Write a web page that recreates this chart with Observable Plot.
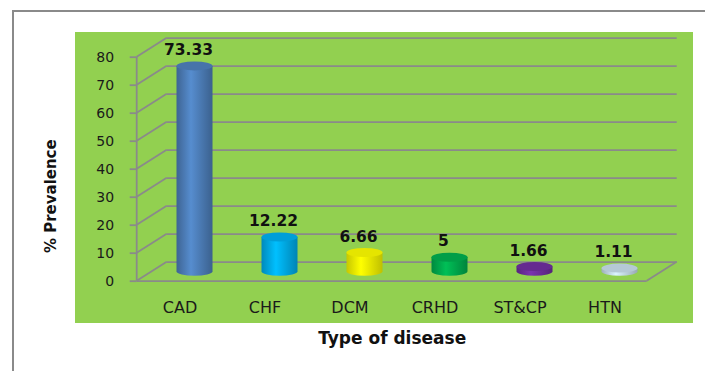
<!DOCTYPE html>
<html>
<head>
<meta charset="utf-8">
<script src="https://cdn.jsdelivr.net/npm/d3@7"></script>
<script src="https://cdn.jsdelivr.net/npm/@observablehq/plot@0.6"></script>
<style>
  html, body { margin: 0; padding: 0; background: #fff; }
  #page { position: relative; width: 705px; height: 371px; overflow: hidden; }
  #border { position: absolute; left: 12px; top: 10px; width: 900px; height: 600px; border: 2px solid #8a8a8a; box-sizing: border-box; }
  #panel { position: absolute; left: 75px; top: 32px; width: 618px; height: 291px; background: #92d050; }
  #chart { position: absolute; left: 0; top: 0; }
</style>
</head>
<body>
<div id="page">
  <div id="border"></div>
  <div id="panel"></div>
  <div id="chart"></div>
</div>
<script>
// Prevalence (%) by type of heart disease
const diseases = ["CAD", "CHF", "DCM", "CRHD", "ST&CP", "HTN"];
const prevalence = [73.33, 12.22, 6.66, 5, 1.66, 1.11];
const barColors = ["#4f81bd", "#00b0f0", "#ffff00", "#00b050", "#7030a0", "#c9e0ee"];
const yTicks = [0, 10, 20, 30, 40, 50, 60, 70, 80];

const rows = diseases.map((d, i) => ({disease: d, value: prevalence[i], color: barColors[i]}));

// oblique offset of the back wall (pixels)
const DEPTH_X = 30, DEPTH_Y = -19;
const GRID = "#8a8a8a";

// side-wall diagonals, front value axis and right floor edge
function walls(index, scales, values, dims) {
  const {marginLeft, marginRight, width} = dims;
  const x0 = marginLeft, x1 = width - marginRight;
  const g = d3.create("svg:g")
    .attr("stroke", GRID).attr("stroke-width", 1.8).attr("fill", "none");
  for (const t of yTicks) {
    const y = scales.y(t);
    g.append("line").attr("x1", x0).attr("y1", y).attr("x2", x0 + DEPTH_X).attr("y2", y + DEPTH_Y);
  }
  const yb = scales.y(0), yt = scales.y(yTicks[yTicks.length - 1]);
  g.append("line").attr("x1", x0).attr("y1", yb).attr("x2", x0).attr("y2", yt);
  g.append("line").attr("x1", x1).attr("y1", yb).attr("x2", x1 + DEPTH_X).attr("y2", yb + DEPTH_Y);
  return g.node();
}

// shaded cylinders standing at mid-depth
function cylinders(index, scales, values, dims) {
  const step = scales.x(diseases[1]) - scales.x(diseases[0]);
  const rx = 18, ry = 4.5;
  const g = d3.create("svg:g");
  const defs = g.append("defs");
  rows.forEach((r, i) => {
    const base = d3.color(r.color);
    const id = "cyl-grad-" + i;
    const grad = defs.append("linearGradient").attr("id", id)
      .attr("x1", 0).attr("x2", 1).attr("y1", 0).attr("y2", 0);
    grad.append("stop").attr("offset", "0%").attr("stop-color", base.darker(0.7));
    grad.append("stop").attr("offset", "40%").attr("stop-color", base.brighter(0.25));
    grad.append("stop").attr("offset", "100%").attr("stop-color", base.darker(0.8));
    const cx = scales.x(r.disease) + step / 2 + DEPTH_X / 2;
    const yTop = scales.y(r.value) + DEPTH_Y / 2;
    const yBot = scales.y(0) + DEPTH_Y / 2;
    g.append("path")
      .attr("d", `M${cx - rx},${yTop}L${cx - rx},${yBot}A${rx},${ry} 0 0 0 ${cx + rx},${yBot}L${cx + rx},${yTop}Z`)
      .attr("fill", `url(#${id})`);
    g.append("ellipse")
      .attr("cx", cx).attr("cy", yTop).attr("rx", rx).attr("ry", ry)
      .attr("fill", base.darker(0.3));
  });
  return g.node();
}

const chart = Plot.plot({
  width: 705,
  height: 371,
  marginLeft: 136.7,
  marginRight: 58.3,
  marginTop: 56.7,
  marginBottom: 90.3,
  style: {background: "transparent", fontFamily: "DejaVu Sans", overflow: "visible"},
  x: {type: "band", domain: diseases, padding: 0, label: null},
  y: {domain: [0, 80], label: null},
  marks: [
    Plot.ruleY(yTicks, {dx: DEPTH_X, dy: DEPTH_Y, stroke: GRID, strokeWidth: 1.8}),
    Plot.ruleY([0], {stroke: GRID, strokeWidth: 1.8}),
    walls,
    Plot.axisY(yTicks, {tickSize: 7, tickPadding: 16, fontSize: 14, stroke: GRID, strokeWidth: 1.8, fill: "#1a1a1a", label: null}),
    Plot.axisX({tickSize: 0, tickPadding: 20, fontSize: 16, fill: "#1a1a1a", label: null}),
    cylinders,
    Plot.text(rows, {
      x: "disease", y: "value", text: (d) => String(d.value),
      dx: 8.5, dy: -26, fontWeight: "bold", fontSize: 15.5, fill: "#111", lineAnchor: "middle"
    }),
    Plot.text(["% Prevalence"], {
      frameAnchor: "left", rotate: -90, dx: -86, dy: 27,
      textAnchor: "middle", lineAnchor: "middle", fontWeight: "bold", fontSize: 15, fill: "#111"
    }),
    Plot.text(["Type of disease"], {
      frameAnchor: "bottom", dy: 57.3,
      textAnchor: "middle", lineAnchor: "middle", fontWeight: "bold", fontSize: 17, fill: "#111"
    })
  ]
});

document.getElementById("chart").append(chart);
</script>
</body>
</html>
